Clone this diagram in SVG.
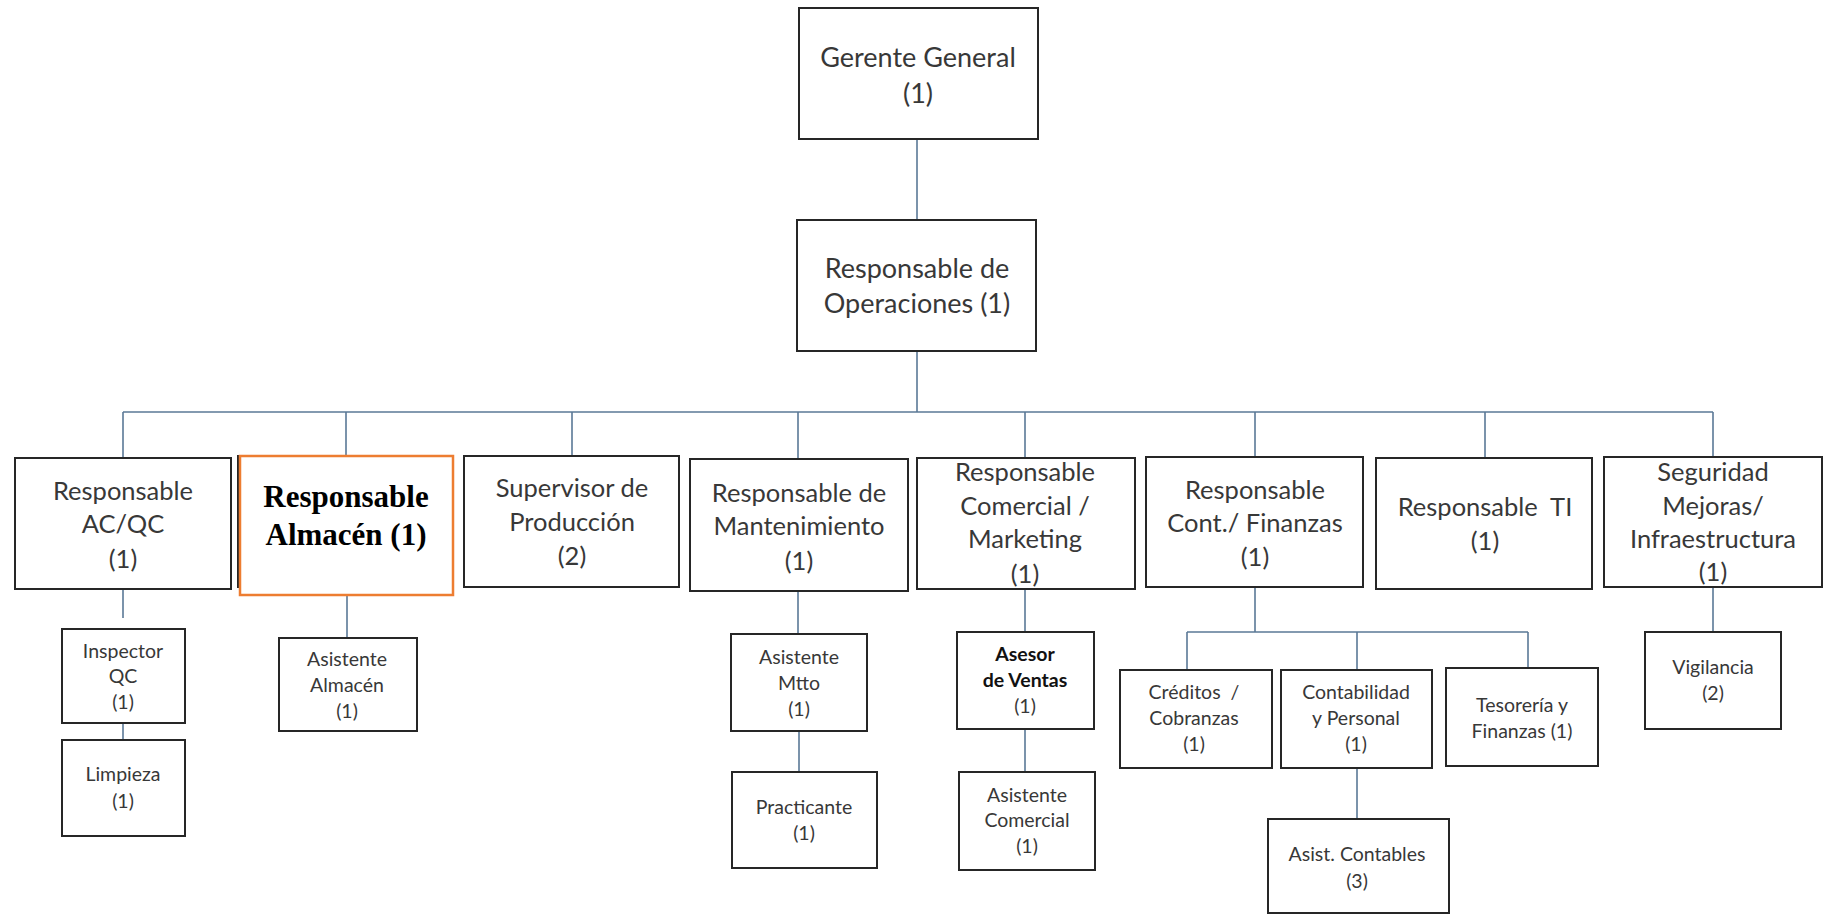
<svg xmlns="http://www.w3.org/2000/svg" width="1829" height="915" viewBox="0 0 1829 915">
<style>
.box{fill:#fff;stroke:#262626;stroke-width:2}
.hl{fill:#fff;stroke:#ed7d31;stroke-width:2.5}
.t{font-family:Lato,"Open Sans","Liberation Sans",sans-serif;fill:#383838;text-anchor:middle;white-space:pre}
.xl{font-size:27px}
.l{font-size:25.5px}
.s{font-size:19.5px}
.b{font-weight:bold;fill:#111}
.tnr{font-family:"Liberation Serif","Times New Roman",serif;font-weight:bold;font-size:31px;fill:#000;text-anchor:middle}
.c{stroke:#5a7896;stroke-width:1.6;fill:none}
</style>
<rect width="1829" height="915" fill="#fff"/>
<g id="connectors">
<line class="c" x1="917" y1="139" x2="917" y2="220"/>
<line class="c" x1="917" y1="351" x2="917" y2="412"/>
<line class="c" x1="123" y1="412" x2="1713" y2="412" stroke-width="2.2"/>
<line class="c" x1="123" y1="412" x2="123" y2="459"/>
<line class="c" x1="346" y1="412" x2="346" y2="456"/>
<line class="c" x1="572" y1="412" x2="572" y2="456"/>
<line class="c" x1="798" y1="412" x2="798" y2="459"/>
<line class="c" x1="1025" y1="412" x2="1025" y2="458"/>
<line class="c" x1="1255" y1="412" x2="1255" y2="457"/>
<line class="c" x1="1485" y1="412" x2="1485" y2="458"/>
<line class="c" x1="1713" y1="412" x2="1713" y2="457"/>
<line class="c" x1="123" y1="589" x2="123" y2="618"/>
<line class="c" x1="123" y1="723" x2="123" y2="740"/>
<line class="c" x1="347" y1="595" x2="347" y2="638"/>
<line class="c" x1="798" y1="591" x2="798" y2="634"/>
<line class="c" x1="799" y1="731" x2="799" y2="772"/>
<line class="c" x1="1025" y1="589" x2="1025" y2="632"/>
<line class="c" x1="1025" y1="729" x2="1025" y2="772"/>
<line class="c" x1="1255" y1="587" x2="1255" y2="632"/>
<line class="c" x1="1187" y1="632" x2="1528" y2="632"/>
<line class="c" x1="1187" y1="632" x2="1187" y2="670"/>
<line class="c" x1="1357" y1="632" x2="1357" y2="670"/>
<line class="c" x1="1528" y1="632" x2="1528" y2="673"/>
<line class="c" x1="1357" y1="768" x2="1357" y2="819"/>
<line class="c" x1="1713" y1="587" x2="1713" y2="632"/>
</g>
<g id="gerente">
<rect class="box" x="799" y="8" width="239" height="131"/>
<text class="t xl" x="918" y="67">Gerente General</text>
<text class="t xl" x="918" y="103">(1)</text>
</g>
<g id="operaciones">
<rect class="box" x="797" y="220" width="239" height="131"/>
<text class="t xl" x="917" y="278">Responsable de</text>
<text class="t xl" x="917" y="313">Operaciones (1)</text>
</g>
<g id="acqc">
<rect class="box" x="15" y="458" width="216" height="131"/>
<text class="t l" x="123" y="500">Responsable</text>
<text class="t l" x="123" y="533">AC/QC</text>
<text class="t l" x="123" y="568">(1)</text>
</g>
<g id="almacen">
<rect class="box" x="238" y="456" width="214" height="131"/>
<rect class="hl" x="240" y="456" width="213" height="139"/>
<text class="tnr" x="346" y="507">Responsable</text>
<text class="tnr" x="346" y="545">Almacén (1)</text>
</g>
<g id="supervisor">
<rect class="box" x="464" y="456" width="215" height="131"/>
<text class="t l" x="572" y="497">Supervisor de</text>
<text class="t l" x="572" y="531">Producción</text>
<text class="t l" x="572" y="565">(2)</text>
</g>
<g id="mantenimiento">
<rect class="box" x="690" y="459" width="218" height="132"/>
<text class="t l" x="799" y="502">Responsable de</text>
<text class="t l" x="799" y="535">Mantenimiento</text>
<text class="t l" x="799" y="570">(1)</text>
</g>
<g id="comercial">
<rect class="box" x="917" y="458" width="218" height="131"/>
<text class="t l" x="1025" y="481">Responsable</text>
<text class="t l" x="1025" y="515">Comercial /</text>
<text class="t l" x="1025" y="548">Marketing</text>
<text class="t l" x="1025" y="583">(1)</text>
</g>
<g id="finanzas">
<rect class="box" x="1146" y="457" width="217" height="130"/>
<text class="t l" x="1255" y="499">Responsable</text>
<text class="t l" x="1255" y="532">Cont./ Finanzas</text>
<text class="t l" x="1255" y="566">(1)</text>
</g>
<g id="ti">
<rect class="box" x="1376" y="458" width="216" height="131"/>
<text class="t l" x="1485" y="516">Responsable  TI</text>
<text class="t l" x="1485" y="550">(1)</text>
</g>
<g id="seguridad">
<rect class="box" x="1604" y="457" width="218" height="130"/>
<text class="t l" x="1713" y="481">Seguridad</text>
<text class="t l" x="1713" y="515">Mejoras/</text>
<text class="t l" x="1713" y="548">Infraestructura</text>
<text class="t l" x="1713" y="581">(1)</text>
</g>
<g id="inspector">
<rect class="box" x="62" y="629" width="123" height="94"/>
<text class="t s" x="123" y="658">Inspector</text>
<text class="t s" x="123" y="683">QC</text>
<text class="t s" x="123" y="709">(1)</text>
</g>
<g id="limpieza">
<rect class="box" x="62" y="740" width="123" height="96"/>
<text class="t s" x="123" y="781">Limpieza</text>
<text class="t s" x="123" y="808">(1)</text>
</g>
<g id="asistente-almacen">
<rect class="box" x="279" y="638" width="138" height="93"/>
<text class="t s" x="347" y="666">Asistente</text>
<text class="t s" x="347" y="692">Almacén</text>
<text class="t s" x="347" y="718">(1)</text>
</g>
<g id="asistente-mtto">
<rect class="box" x="731" y="634" width="136" height="97"/>
<text class="t s" x="799" y="664">Asistente</text>
<text class="t s" x="799" y="690">Mtto</text>
<text class="t s" x="799" y="716">(1)</text>
</g>
<g id="practicante">
<rect class="box" x="732" y="772" width="145" height="96"/>
<text class="t s" x="804" y="814">Practicante</text>
<text class="t s" x="804" y="840">(1)</text>
</g>
<g id="asesor">
<rect class="box" x="957" y="632" width="137" height="97"/>
<text class="t s b" x="1025" y="661">Asesor</text>
<text class="t s b" x="1025" y="687">de Ventas</text>
<text class="t s" x="1025" y="713">(1)</text>
</g>
<g id="asistente-comercial">
<rect class="box" x="959" y="772" width="136" height="98"/>
<text class="t s" x="1027" y="802">Asistente</text>
<text class="t s" x="1027" y="827">Comercial</text>
<text class="t s" x="1027" y="853">(1)</text>
</g>
<g id="creditos">
<rect class="box" x="1120" y="670" width="152" height="98"/>
<text class="t s" x="1194" y="699">Créditos  /</text>
<text class="t s" x="1194" y="725">Cobranzas</text>
<text class="t s" x="1194" y="751">(1)</text>
</g>
<g id="contabilidad">
<rect class="box" x="1281" y="670" width="151" height="98"/>
<text class="t s" x="1356" y="699">Contabilidad</text>
<text class="t s" x="1356" y="725">y Personal</text>
<text class="t s" x="1356" y="751">(1)</text>
</g>
<g id="tesoreria">
<rect class="box" x="1446" y="668" width="152" height="98"/>
<text class="t s" x="1522" y="712">Tesorería y</text>
<text class="t s" x="1522" y="738">Finanzas (1)</text>
</g>
<g id="vigilancia">
<rect class="box" x="1645" y="632" width="136" height="97"/>
<text class="t s" x="1713" y="674">Vigilancia</text>
<text class="t s" x="1713" y="700">(2)</text>
</g>
<g id="asist-contables">
<rect class="box" x="1268" y="819" width="181" height="94"/>
<text class="t s" x="1357" y="861">Asist. Contables</text>
<text class="t s" x="1357" y="888">(3)</text>
</g>
</svg>
